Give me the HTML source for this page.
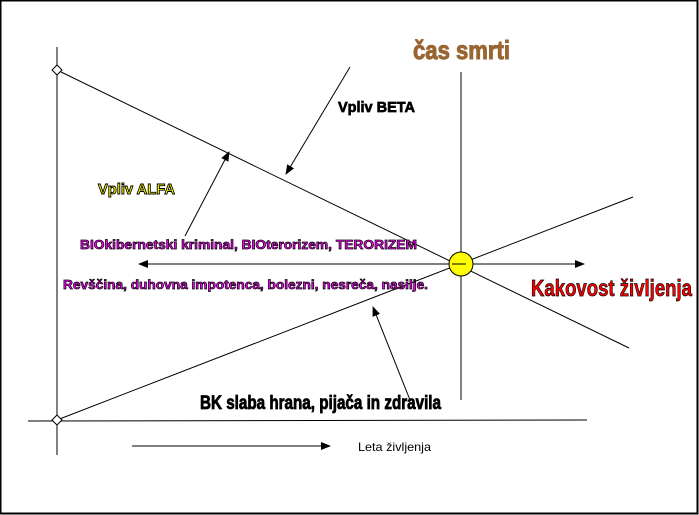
<!DOCTYPE html>
<html><head><meta charset="utf-8"><style>
body{margin:0;width:699px;height:515px;overflow:hidden;background:#fff}
svg{position:absolute;left:0;top:0}
.t{font-family:"Liberation Sans",sans-serif;font-weight:bold}
</style></head><body>
<svg width="699" height="515" viewBox="0 0 699 515">
<defs><marker id="a" markerWidth="10" markerHeight="8" refX="9" refY="4" orient="auto" markerUnits="userSpaceOnUse"><path d="M0,0 L10,4 L0,8z" fill="#000"/></marker></defs>
<rect x="0.5" y="0.5" width="697" height="513" fill="none" stroke="#000" stroke-width="2"/>
<g stroke="#000" stroke-width="1" fill="none">
<line x1="57" y1="47" x2="57" y2="455"/>
<line x1="28" y1="421" x2="587" y2="420"/>
<line x1="461" y1="72" x2="461" y2="400"/>
<line x1="57" y1="70" x2="629" y2="348"/>
<line x1="57" y1="420" x2="633" y2="197"/>
<line x1="461" y1="264" x2="584" y2="264" marker-end="url(#a)"/>
<line x1="461" y1="264" x2="139" y2="264" marker-end="url(#a)"/>
<line x1="132" y1="446" x2="330" y2="446" marker-end="url(#a)"/>
<line x1="350" y1="67" x2="286" y2="174" marker-end="url(#a)"/>
<line x1="185" y1="236" x2="229" y2="152" marker-end="url(#a)"/>
<line x1="410" y1="400" x2="373" y2="307" marker-end="url(#a)"/>
</g>
<path d="M57,65 L62,70 L57,75 L52,70z" fill="#fff" stroke="#000"/>
<path d="M57,415 L62,420 L57,425 L52,420z" fill="#fff" stroke="#000"/>
<ellipse cx="461" cy="264" rx="12" ry="12" fill="#ffff00" stroke="#000"/>
<line x1="452" y1="264" x2="466" y2="264" stroke="#000"/>
<text class="t" x="413" y="59" font-size="26" fill="#996633" stroke="#996633" stroke-width="1" textLength="97" lengthAdjust="spacingAndGlyphs">čas smrti</text>
<text class="t" x="338" y="112" font-size="15" fill="#000" stroke="#000" stroke-width="0.7" textLength="77" lengthAdjust="spacingAndGlyphs">Vpliv BETA</text>
<text class="t" x="98" y="194" font-size="15" fill="#ffff00" stroke="#000" stroke-width="0.9" textLength="77" lengthAdjust="spacingAndGlyphs">Vpliv ALFA</text>
<text class="t" x="80" y="249" font-size="12.5" fill="#ff00ff" stroke="#000" stroke-width="0.7" textLength="337" lengthAdjust="spacingAndGlyphs">BIOkibernetski kriminal, BIOterorizem, TERORIZEM</text>
<text class="t" x="63" y="289" font-size="12.5" fill="#ff00ff" stroke="#000" stroke-width="0.7" textLength="365" lengthAdjust="spacingAndGlyphs">Revščina, duhovna impotenca, bolezni, nesreča, nasilje.</text>
<text class="t" x="531" y="296" font-size="23" fill="#ff0000" stroke="#000" stroke-width="0.7" textLength="161" lengthAdjust="spacingAndGlyphs">Kakovost življenja</text>
<text class="t" x="200" y="409" font-size="19" fill="#000" stroke="#000" stroke-width="0.8" textLength="241" lengthAdjust="spacingAndGlyphs">BK slaba hrana, pijača in zdravila</text>
<text x="358" y="451" font-size="12" font-family="Liberation Sans,sans-serif" fill="#000" textLength="73" lengthAdjust="spacingAndGlyphs">Leta življenja</text>
</svg>
</body></html>
